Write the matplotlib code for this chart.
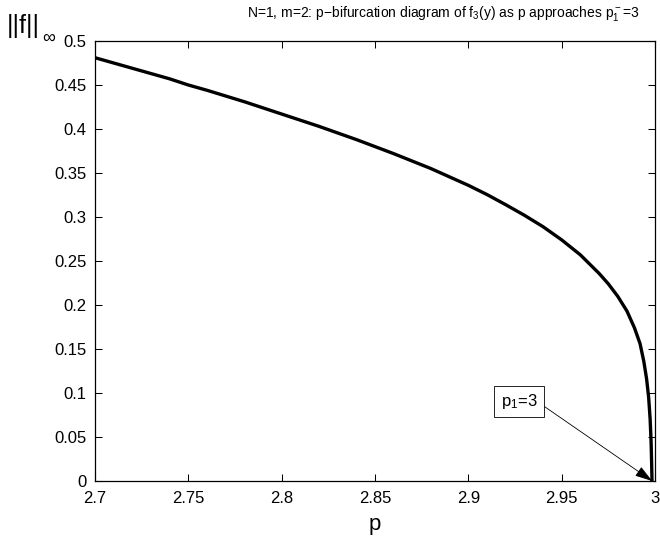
import matplotlib
matplotlib.use("Agg")
import matplotlib.pyplot as plt

plt.rcParams['font.family'] = ['Liberation Sans', 'DejaVu Sans']
plt.rcParams['mathtext.fontset'] = 'custom'
plt.rcParams['mathtext.rm'] = 'Liberation Sans'
plt.rcParams['mathtext.it'] = 'Liberation Sans'

# bifurcation branch: parameter p and sup-norm of the solution
p_vals = [2.700, 2.720, 2.740, 2.750, 2.760, 2.780, 2.800, 2.820, 2.840, 2.860,
          2.880, 2.900, 2.910, 2.920, 2.930, 2.940, 2.950, 2.960, 2.970, 2.975,
          2.980, 2.985, 2.989, 2.992, 2.994, 2.9955, 2.9966, 2.9974, 2.9979,
          2.9982, 2.9984]
norm_vals = [0.481, 0.469, 0.457, 0.450, 0.444, 0.431, 0.417, 0.403, 0.388, 0.372,
             0.355, 0.336, 0.3255, 0.314, 0.302, 0.289, 0.274, 0.257, 0.236, 0.224,
             0.210, 0.193, 0.174, 0.156, 0.136, 0.116, 0.095, 0.070, 0.045,
             0.020, 0.000]

x_ticks = [2.7, 2.75, 2.8, 2.85, 2.9, 2.95, 3.0]
x_tick_labels = ['2.7', '2.75', '2.8', '2.85', '2.9', '2.95', '3']
y_ticks = [0, 0.05, 0.1, 0.15, 0.2, 0.25, 0.3, 0.35, 0.4, 0.45, 0.5]
y_tick_labels = ['0', '0.05', '0.1', '0.15', '0.2', '0.25', '0.3', '0.35', '0.4', '0.45', '0.5']

fig = plt.figure(figsize=(6.6, 5.43), dpi=100)
ax = fig.add_axes([95/660, 62/543, 560/660, 440/543])

ax.plot(p_vals, norm_vals, color='black', lw=2.4, solid_capstyle='butt',
        solid_joinstyle='round')

ax.set_xlim(2.7, 3.0)
ax.set_ylim(0, 0.5)
ax.set_xticks(x_ticks)
ax.set_xticklabels(x_tick_labels)
ax.set_yticks(y_ticks)
ax.set_yticklabels(y_tick_labels)
ax.tick_params(direction='in', top=True, right=True, length=5, width=0.75,
               labelsize=12)
ax.tick_params(axis='x', pad=7)
ax.tick_params(axis='y', pad=6)
for s in ax.spines.values():
    s.set_linewidth(0.9)

fig.text(443/660, 1 - 17/543,
         r'N=1, m=2: p$-$bifurcation diagram of $\mathregular{f_3}$(y) as p approaches '
         r'$\mathregular{p_1^-}$=3', fontsize=10, ha='center', va='baseline')
ax.set_xlabel('p', fontsize=16, labelpad=6)

# y-axis label: norm with an infinity subscript
fig.text(7/660, 1 - 33/543, '||f||', fontsize=18, ha='left', va='baseline')
fig.text(42/660, 1 - 43/543, '\u221e', fontsize=13, ha='left', va='baseline')

ax.annotate(r'$\mathregular{p_1}$=3', xy=(2.9985, 0.0), xytext=(2.9271, 0.0903),
            textcoords='data', ha='center', va='center', fontsize=12,
            bbox=dict(boxstyle='square,pad=0.38', fc='white', ec='black', lw=0.6),
            arrowprops=dict(arrowstyle='-|>,head_length=0.9,head_width=0.28',
                            color='black', lw=0.6, relpos=(1.0, 0.5),
                            shrinkA=0, shrinkB=0))

fig.savefig('out.png', dpi=100)
